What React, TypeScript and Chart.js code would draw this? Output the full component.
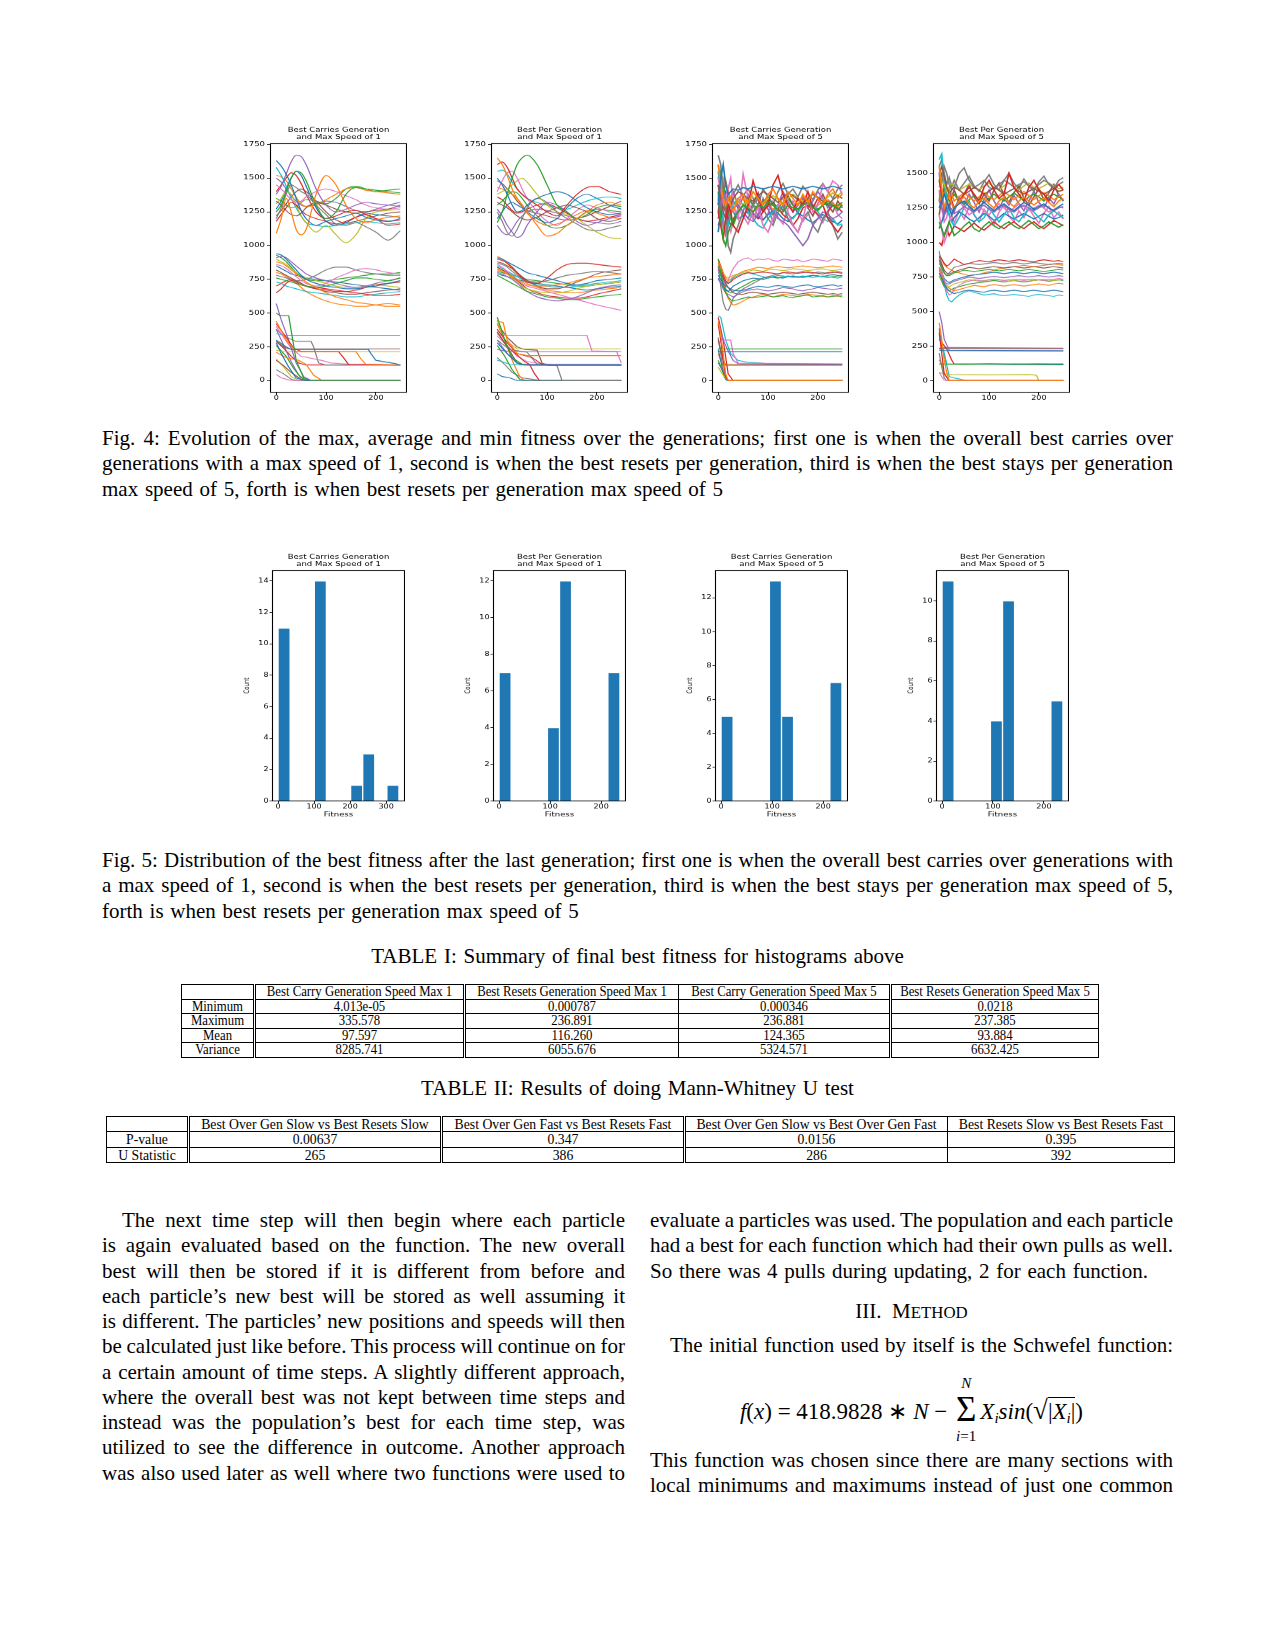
import { useEffect, useRef } from "react";
import { Chart, registerables } from "chart.js";

Chart.register(...registerables);

const TAB10 = ["#1f77b4", "#ff7f0e", "#2ca02c", "#d62728", "#9467bd", "#8c564b", "#e377c2", "#7f7f7f", "#bcbd22", "#17becf"];

const GEN_SLOW = [0, 10, 20, 30, 40, 50, 60, 80, 100, 120, 140, 160, 180, 200, 225, 249];
const GEN_FAST = [0, 5, 10, 15, 20, 25, 30, 40, 50, 60, 70, 80, 90, 100, 110, 120, 130, 140, 150, 160, 170, 180, 190, 200, 210, 220, 230, 240, 249];
const GEN_TICKS = [0, 100, 200];
const FIT_TICKS_1750 = [0, 250, 500, 750, 1000, 1250, 1500, 1750];
const FIT_TICKS_1500 = [0, 250, 500, 750, 1000, 1250, 1500];

// ---- Best Carries Generation, max speed 1 ----
const C1_MAX = [
  [1630, 1590, 1530, 1450, 1350, 1260, 1200, 1150, 1180, 1200, 1220, 1240, 1210, 1190, 1180, 1200],
  [1090, 1200, 1350, 1250, 1120, 1080, 1120, 1380, 1520, 1450, 1300, 1200, 1170, 1190, 1210, 1220],
  [1250, 1300, 1400, 1500, 1550, 1540, 1480, 1300, 1200, 1250, 1380, 1430, 1420, 1410, 1400, 1390],
  [1180, 1230, 1280, 1320, 1300, 1260, 1230, 1200, 1180, 1160, 1180, 1210, 1230, 1200, 1180, 1190],
  [1380, 1440, 1530, 1620, 1670, 1660, 1600, 1420, 1300, 1250, 1270, 1300, 1320, 1310, 1300, 1290],
  [1330, 1300, 1260, 1230, 1220, 1240, 1280, 1320, 1300, 1270, 1250, 1240, 1250, 1260, 1270, 1300],
  [1450, 1420, 1380, 1340, 1320, 1330, 1360, 1400, 1420, 1400, 1370, 1340, 1300, 1280, 1270, 1280],
  [1200, 1280, 1380, 1450, 1430, 1400, 1380, 1300, 1230, 1160, 1150, 1170, 1140, 1100, 1040, 1110],
  [1310, 1350, 1400, 1380, 1300, 1220, 1170, 1100, 1150, 1080, 1020, 1080, 1200, 1250, 1260, 1270],
  [1580, 1520, 1440, 1350, 1280, 1220, 1170, 1150, 1140, 1150, 1160, 1170, 1180, 1170, 1160, 1170],
  [1270, 1330, 1420, 1500, 1550, 1520, 1440, 1280, 1180, 1150, 1170, 1210, 1240, 1230, 1220, 1210],
  [1520, 1510, 1480, 1420, 1360, 1310, 1290, 1300, 1340, 1380, 1420, 1430, 1410, 1400, 1390, 1380],
  [1350, 1330, 1300, 1280, 1290, 1320, 1340, 1330, 1310, 1350, 1420, 1440, 1420, 1400, 1410, 1420],
  [1400, 1450, 1500, 1540, 1520, 1460, 1380, 1250, 1200, 1220, 1250, 1260, 1230, 1200, 1150, 1160],
  [1500, 1470, 1420, 1370, 1330, 1300, 1290, 1310, 1330, 1320, 1290, 1260, 1250, 1270, 1300, 1320],
  [1220, 1260, 1310, 1360, 1400, 1420, 1400, 1330, 1250, 1190, 1170, 1180, 1200, 1220, 1240, 1250],
];
const C1_AVG = [
  [940, 930, 900, 860, 820, 780, 750, 720, 700, 690, 680, 680, 690, 700, 720, 740],
  [880, 870, 850, 820, 790, 760, 730, 690, 650, 620, 600, 580, 570, 560, 550, 550],
  [760, 750, 740, 730, 720, 710, 700, 690, 700, 720, 740, 760, 760, 750, 740, 760],
  [650, 680, 720, 740, 730, 710, 700, 690, 680, 670, 660, 650, 640, 630, 630, 640],
  [910, 920, 910, 880, 850, 820, 790, 760, 740, 720, 700, 690, 700, 720, 740, 760],
  [820, 800, 780, 760, 740, 720, 700, 680, 660, 650, 640, 640, 650, 660, 670, 680],
  [860, 850, 830, 800, 770, 740, 720, 700, 720, 760, 790, 820, 830, 820, 800, 790],
  [780, 770, 760, 750, 740, 740, 750, 780, 820, 840, 840, 820, 800, 790, 780, 780],
  [900, 880, 860, 830, 800, 780, 760, 740, 720, 700, 690, 690, 700, 710, 700, 690],
  [730, 720, 700, 690, 680, 670, 660, 650, 640, 630, 620, 620, 630, 640, 650, 660],
  [850, 830, 810, 790, 780, 770, 760, 750, 740, 730, 720, 710, 700, 690, 680, 670],
  [800, 790, 770, 750, 720, 690, 660, 620, 590, 570, 560, 550, 550, 560, 570, 560],
  [930, 910, 880, 840, 800, 770, 750, 740, 740, 750, 760, 770, 780, 790, 790, 800],
  [700, 720, 740, 750, 740, 720, 700, 680, 670, 660, 660, 670, 690, 710, 720, 730],
];
const C1_MIN = [
  [[0, 300], [20, 250], [30, 230], [185, 230], [190, 200], [200, 150], [240, 125], [249, 115]],
  [[0, 440], [20, 300], [40, 215], [160, 215], [170, 160], [180, 120], [249, 115]],
  [[0, 500], [8, 480], [25, 480], [40, 150], [55, 20], [70, 0], [249, 0]],
  [[0, 420], [20, 320], [35, 240], [50, 215], [125, 215], [135, 170], [145, 120], [249, 115]],
  [[0, 570], [10, 450], [25, 300], [40, 130], [55, 30], [70, 0], [249, 0]],
  [[0, 290], [15, 250], [25, 235], [249, 235]],
  [[0, 400], [15, 320], [30, 240], [50, 180], [90, 150], [110, 130], [150, 120], [249, 115]],
  [[0, 380], [15, 330], [40, 290], [70, 290], [75, 250], [85, 130], [100, 115], [249, 115]],
  [[0, 225], [10, 215], [249, 215]],
  [[0, 350], [15, 335], [249, 335]],
  [[0, 280], [10, 200], [25, 100], [40, 20], [55, 0], [249, 0]],
  [[0, 210], [20, 170], [45, 150], [60, 120], [75, 40], [90, 5], [100, 0], [249, 0]],
  [[0, 260], [20, 180], [35, 90], [50, 20], [65, 0], [249, 0]],
  [[0, 290], [15, 240], [30, 180], [45, 130], [60, 115], [249, 115]],
  [[0, 380], [15, 260], [30, 140], [45, 40], [60, 0], [249, 0]],
  [[0, 150], [15, 110], [30, 60], [50, 10], [70, 0], [249, 0]],
  [[0, 45], [10, 20], [25, 5], [35, 0], [249, 0]],
  [[0, 80], [15, 50], [30, 10], [40, 0], [249, 0]],
  [[0, 160], [15, 100], [30, 30], [45, 0], [249, 0]],
];

// ---- Best Per Generation, max speed 1 ----
const C2_MAX = [
  [1500, 1450, 1380, 1300, 1250, 1260, 1300, 1350, 1380, 1400, 1380, 1330, 1280, 1250, 1230, 1240],
  [1650, 1600, 1520, 1420, 1350, 1300, 1250, 1150, 1070, 1090, 1150, 1200, 1250, 1300, 1320, 1300],
  [1170, 1250, 1380, 1500, 1600, 1650, 1670, 1600, 1450, 1300, 1250, 1200, 1230, 1280, 1300, 1290],
  [1600, 1620, 1580, 1500, 1420, 1380, 1350, 1300, 1250, 1220, 1300, 1380, 1430, 1440, 1400, 1380],
  [1270, 1220, 1150, 1100, 1060, 1080, 1150, 1250, 1320, 1300, 1250, 1180, 1150, 1170, 1200, 1220],
  [1320, 1300, 1280, 1250, 1220, 1200, 1190, 1210, 1250, 1280, 1300, 1280, 1250, 1200, 1180, 1200],
  [1400, 1480, 1540, 1550, 1500, 1420, 1350, 1250, 1180, 1150, 1200, 1260, 1300, 1280, 1250, 1230],
  [1250, 1180, 1100, 1070, 1120, 1200, 1280, 1350, 1320, 1250, 1200, 1160, 1120, 1110, 1130, 1150],
  [1380, 1400, 1420, 1450, 1480, 1500, 1470, 1380, 1300, 1250, 1230, 1200, 1150, 1100, 1060, 1050],
  [1550, 1560, 1530, 1470, 1420, 1380, 1350, 1320, 1300, 1280, 1270, 1300, 1330, 1350, 1360, 1350],
  [1200, 1250, 1300, 1320, 1300, 1280, 1250, 1200, 1170, 1200, 1280, 1350, 1380, 1350, 1300, 1270],
  [1430, 1420, 1400, 1380, 1350, 1300, 1240, 1180, 1150, 1160, 1190, 1230, 1260, 1240, 1210, 1200],
  [1300, 1330, 1370, 1400, 1390, 1350, 1300, 1220, 1150, 1130, 1150, 1200, 1250, 1270, 1260, 1250],
  [1360, 1340, 1300, 1260, 1240, 1250, 1270, 1300, 1310, 1280, 1240, 1200, 1180, 1190, 1210, 1230],
  [1150, 1100, 1080, 1120, 1180, 1220, 1250, 1270, 1260, 1240, 1220, 1200, 1180, 1170, 1160, 1180],
  [1480, 1460, 1420, 1380, 1330, 1290, 1260, 1240, 1220, 1200, 1190, 1200, 1220, 1250, 1290, 1330],
];
const C2_AVG = [
  [910, 900, 880, 860, 840, 820, 800, 780, 760, 740, 720, 710, 720, 740, 750, 760],
  [820, 810, 790, 770, 750, 730, 710, 700, 700, 710, 720, 740, 760, 770, 780, 790],
  [780, 760, 740, 720, 700, 680, 660, 640, 620, 610, 600, 600, 610, 620, 630, 640],
  [900, 890, 870, 840, 800, 760, 730, 720, 760, 820, 860, 870, 870, 860, 850, 840],
  [800, 790, 770, 750, 720, 690, 660, 620, 600, 590, 600, 620, 650, 680, 700, 710],
  [880, 870, 850, 830, 800, 770, 740, 700, 680, 680, 700, 730, 760, 790, 810, 820],
  [860, 840, 810, 780, 750, 720, 700, 680, 660, 640, 620, 600, 580, 560, 540, 520],
  [870, 860, 840, 810, 780, 760, 740, 730, 740, 760, 780, 790, 800, 810, 800, 790],
  [830, 810, 790, 760, 730, 700, 680, 660, 650, 650, 660, 680, 700, 710, 720, 730],
  [850, 830, 810, 790, 770, 750, 730, 710, 700, 690, 690, 700, 710, 720, 730, 740],
  [790, 780, 770, 760, 750, 740, 730, 720, 710, 700, 690, 680, 670, 680, 690, 700],
  [920, 900, 870, 830, 790, 750, 720, 690, 670, 660, 650, 650, 660, 670, 680, 690],
  [810, 800, 790, 780, 770, 760, 750, 740, 730, 720, 710, 700, 700, 710, 720, 730],
  [840, 820, 800, 770, 740, 710, 680, 650, 630, 620, 610, 610, 620, 640, 660, 680],
];
const C2_MIN = [
  [[0, 280], [20, 200], [40, 130], [60, 115], [249, 115]],
  [[0, 440], [12, 430], [20, 300], [40, 200], [60, 185], [249, 185]],
  [[0, 470], [15, 300], [30, 170], [50, 120], [70, 115], [249, 115]],
  [[0, 380], [20, 280], [40, 200], [70, 170], [90, 120], [100, 115], [249, 115]],
  [[0, 230], [15, 220], [30, 215], [249, 215]],
  [[0, 360], [20, 250], [40, 130], [55, 115], [249, 115]],
  [[0, 340], [10, 335], [180, 335], [190, 220], [240, 215], [249, 130]],
  [[0, 300], [25, 230], [60, 210], [80, 120], [120, 110], [130, 0], [249, 0]],
  [[0, 450], [15, 300], [40, 235], [249, 235]],
  [[0, 150], [10, 140], [25, 120], [45, 115], [249, 115]],
  [[0, 50], [10, 30], [25, 20], [40, 0], [249, 0]],
  [[0, 420], [15, 300], [30, 150], [45, 30], [55, 0], [249, 0]],
  [[0, 260], [15, 180], [30, 80], [45, 10], [60, 0], [249, 0]],
  [[0, 360], [20, 250], [40, 190], [55, 140], [65, 120], [75, 50], [85, 0], [249, 0]],
  [[0, 300], [20, 200], [40, 130], [50, 120], [249, 120]],
  [[0, 420], [20, 320], [40, 250], [55, 230], [80, 225], [90, 130], [100, 115], [249, 115]],
  [[0, 330], [20, 260], [40, 180], [60, 140], [90, 125], [110, 118], [249, 115]],
  [[0, 170], [15, 120], [30, 60], [50, 20], [70, 10], [90, 0], [249, 0]],
];

// ---- Best Carries Generation, max speed 5 ----
const C3_MAX = [
  [1300, 1500, 1600, 1450, 1380, 1400, 1420, 1410, 1430, 1420, 1440, 1430, 1420, 1430, 1440, 1430, 1420, 1430, 1440, 1430, 1420, 1430, 1440, 1430, 1420, 1430, 1440, 1430, 1420],
  [1600, 1450, 1350, 1300, 1350, 1300, 1250, 1350, 1380, 1320, 1400, 1350, 1300, 1380, 1420, 1350, 1300, 1400, 1350, 1300, 1380, 1320, 1400, 1350, 1300, 1380, 1420, 1350, 1380],
  [1400, 1200, 1050, 1000, 1100, 1150, 1200, 1250, 1300, 1280, 1250, 1300, 1280, 1320, 1300, 1260, 1250, 1300, 1280, 1270, 1300, 1320, 1280, 1260, 1300, 1310, 1290, 1300, 1320],
  [1250, 1150, 1050, 1200, 1300, 1250, 1150, 1100, 1200, 1300, 1480, 1350, 1250, 1300, 1450, 1520, 1380, 1300, 1250, 1350, 1300, 1400, 1280, 1350, 1300, 1200, 1150, 1100, 1150],
  [1200, 1300, 1400, 1350, 1300, 1250, 1280, 1300, 1250, 1200, 1180, 1230, 1280, 1300, 1250, 1200, 1180, 1150, 1100, 1050, 1000, 1050, 1150, 1200, 1250, 1230, 1200, 1220, 1250],
  [1450, 1350, 1250, 1200, 1250, 1300, 1350, 1400, 1380, 1350, 1330, 1370, 1400, 1380, 1350, 1320, 1360, 1390, 1370, 1340, 1310, 1350, 1380, 1360, 1330, 1300, 1340, 1370, 1350],
  [1500, 1400, 1300, 1350, 1420, 1500, 1300, 1200, 1530, 1350, 1200, 1280, 1150, 1100, 1200, 1300, 1350, 1250, 1150, 1100, 1200, 1350, 1250, 1300, 1450, 1400, 1480, 1450, 1380],
  [1670, 1600, 1400, 1250, 1000, 950, 1050, 1150, 1250, 1200, 1300, 1350, 1280, 1200, 1150, 1250, 1300, 1200, 1150, 1100, 1200, 1250, 1150, 1100, 1200, 1250, 1150, 1050, 1100],
  [1350, 1450, 1400, 1350, 1300, 1320, 1350, 1330, 1300, 1340, 1360, 1330, 1310, 1350, 1370, 1340, 1320, 1350, 1380, 1350, 1330, 1360, 1380, 1350, 1330, 1360, 1390, 1370, 1400],
  [1550, 1400, 1200, 1100, 1150, 1250, 1300, 1350, 1300, 1250, 1200, 1150, 1130, 1200, 1250, 1300, 1280, 1230, 1200, 1250, 1300, 1350, 1300, 1250, 1200, 1180, 1200, 1150, 1160],
  [1100, 1250, 1350, 1400, 1350, 1300, 1250, 1200, 1220, 1260, 1240, 1210, 1190, 1230, 1260, 1240, 1200, 1180, 1210, 1240, 1220, 1190, 1170, 1200, 1230, 1210, 1180, 1160, 1190],
  [1300, 1400, 1500, 1450, 1400, 1350, 1300, 1320, 1350, 1300, 1250, 1280, 1320, 1300, 1270, 1290, 1320, 1300, 1280, 1310, 1330, 1310, 1290, 1300, 1320, 1340, 1310, 1290, 1310],
  [1500, 1550, 1450, 1350, 1250, 1200, 1150, 1250, 1300, 1350, 1300, 1280, 1330, 1360, 1310, 1280, 1320, 1350, 1300, 1270, 1310, 1340, 1300, 1270, 1300, 1330, 1300, 1270, 1300],
  [1150, 1200, 1300, 1250, 1200, 1150, 1180, 1250, 1300, 1270, 1230, 1200, 1250, 1300, 1320, 1280, 1230, 1200, 1150, 1200, 1280, 1300, 1260, 1230, 1200, 1250, 1300, 1280, 1250],
  [1450, 1300, 1150, 1080, 1200, 1350, 1400, 1300, 1250, 1380, 1300, 1220, 1350, 1270, 1180, 1300, 1400, 1330, 1250, 1300, 1360, 1280, 1330, 1400, 1350, 1280, 1320, 1260, 1300],
  [1250, 1380, 1450, 1300, 1180, 1230, 1330, 1280, 1360, 1240, 1310, 1390, 1260, 1340, 1230, 1300, 1260, 1370, 1300, 1240, 1350, 1280, 1220, 1310, 1380, 1300, 1250, 1330, 1280],
  [1600, 1500, 1350, 1250, 1150, 1100, 1180, 1280, 1220, 1160, 1250, 1300, 1190, 1240, 1330, 1210, 1160, 1270, 1330, 1250, 1180, 1230, 1300, 1220, 1170, 1260, 1310, 1230, 1200],
  [1350, 1250, 1380, 1480, 1400, 1320, 1380, 1450, 1370, 1420, 1350, 1300, 1420, 1360, 1300, 1400, 1460, 1380, 1420, 1360, 1440, 1390, 1340, 1410, 1460, 1400, 1350, 1420, 1450],
];
const C3_AVG = [
  [780, 750, 720, 700, 690, 680, 670, 665, 670, 680, 690, 700, 695, 690, 700, 705, 700, 695, 690, 700, 705, 710, 700, 695, 700, 705, 710, 700, 705],
  [880, 850, 800, 760, 740, 750, 770, 790, 810, 820, 830, 840, 835, 830, 840, 845, 840, 835, 840, 845, 850, 845, 840, 835, 840, 845, 850, 845, 840],
  [900, 800, 700, 650, 620, 600, 590, 600, 610, 620, 615, 620, 625, 630, 620, 625, 630, 620, 615, 625, 630, 635, 620, 625, 630, 620, 625, 630, 620],
  [900, 850, 780, 740, 720, 730, 750, 770, 790, 800, 795, 800, 805, 800, 795, 790, 800, 805, 800, 795, 800, 805, 800, 795, 790, 800, 805, 800, 795],
  [760, 720, 680, 650, 640, 630, 620, 640, 660, 670, 675, 680, 670, 665, 670, 680, 690, 685, 680, 670, 665, 675, 680, 690, 685, 680, 675, 680, 685],
  [830, 800, 760, 720, 690, 670, 650, 640, 640, 650, 655, 650, 645, 640, 645, 650, 655, 650, 645, 640, 645, 650, 655, 650, 645, 640, 645, 640, 645],
  [820, 800, 760, 700, 740, 790, 830, 880, 900, 910, 890, 900, 895, 905, 890, 885, 900, 895, 890, 895, 880, 890, 900, 895, 890, 885, 900, 895, 890],
  [850, 700, 580, 530, 520, 560, 610, 650, 680, 700, 720, 740, 760, 770, 780, 790, 800, 795, 790, 800, 810, 800, 795, 805, 800, 795, 800, 810, 800],
  [840, 820, 790, 770, 760, 770, 780, 790, 800, 810, 820, 815, 810, 820, 825, 820, 815, 820, 830, 825, 820, 815, 820, 825, 830, 820, 815, 820, 825],
  [800, 780, 750, 730, 720, 740, 760, 780, 790, 800, 790, 780, 770, 760, 770, 780, 775, 770, 765, 770, 775, 770, 765, 770, 775, 770, 765, 760, 770],
  [750, 730, 700, 670, 660, 680, 700, 720, 740, 750, 760, 755, 750, 760, 770, 765, 760, 770, 775, 770, 765, 770, 780, 775, 770, 780, 785, 780, 775],
  [870, 820, 740, 660, 610, 580, 560, 570, 590, 610, 620, 630, 640, 630, 620, 630, 640, 635, 630, 625, 630, 640, 635, 630, 625, 620, 630, 625, 630],
  [820, 780, 720, 680, 660, 650, 660, 680, 700, 720, 740, 750, 760, 770, 765, 760, 770, 775, 770, 765, 770, 775, 780, 775, 770, 765, 770, 775, 780],
];
const C3_MIN = [
  [[0, 220], [5, 215], [249, 215]],
  [[0, 440], [5, 350], [10, 200], [15, 50], [20, 0], [249, 0]],
  [[0, 240], [5, 235], [249, 235]],
  [[0, 420], [5, 300], [10, 150], [15, 30], [20, 0], [249, 0]],
  [[0, 430], [10, 300], [20, 220], [30, 150], [40, 125], [249, 122]],
  [[0, 300], [10, 150], [15, 115], [249, 115]],
  [[0, 280], [8, 300], [25, 300], [30, 200], [40, 130], [249, 125]],
  [[0, 320], [5, 200], [10, 80], [18, 5], [25, 0], [249, 0]],
  [[0, 100], [10, 40], [20, 5], [30, 0], [60, 3], [90, 0], [120, 4], [150, 0], [180, 3], [210, 0], [249, 2]],
  [[0, 480], [5, 470], [15, 300], [25, 200], [40, 150], [60, 135], [90, 130], [100, 120], [249, 120]],
  [[0, 230], [5, 150], [12, 30], [18, 0], [249, 0]],
  [[0, 200], [5, 150], [10, 120], [249, 118]],
  [[0, 150], [8, 80], [15, 10], [20, 0], [249, 0]],
  [[0, 470], [10, 300], [20, 50], [30, 0], [249, 0]],
  [[0, 130], [5, 100], [15, 20], [20, 0], [249, 0]],
];

// ---- Best Per Generation, max speed 5 ----
const C4_MAX = [
  [1250, 1300, 1350, 1300, 1250, 1200, 1250, 1280, 1300, 1260, 1230, 1260, 1290, 1260, 1230, 1260, 1280, 1250, 1230, 1260, 1290, 1270, 1240, 1260, 1280, 1250, 1230, 1260, 1280],
  [1550, 1400, 1250, 1300, 1350, 1280, 1250, 1300, 1330, 1280, 1250, 1300, 1320, 1280, 1250, 1300, 1330, 1290, 1260, 1300, 1330, 1300, 1270, 1300, 1320, 1290, 1260, 1300, 1320],
  [1150, 1100, 1050, 1100, 1150, 1100, 1050, 1080, 1120, 1150, 1100, 1080, 1120, 1150, 1120, 1100, 1130, 1150, 1120, 1100, 1130, 1160, 1130, 1100, 1120, 1150, 1130, 1110, 1130],
  [1450, 1350, 1250, 1300, 1350, 1300, 1250, 1300, 1350, 1400, 1350, 1300, 1400, 1450, 1380, 1320, 1350, 1500, 1400, 1350, 1300, 1400, 1450, 1380, 1350, 1300, 1380, 1420, 1380],
  [1300, 1250, 1200, 1230, 1260, 1240, 1210, 1230, 1260, 1240, 1220, 1250, 1270, 1240, 1220, 1250, 1270, 1240, 1220, 1250, 1270, 1250, 1230, 1250, 1270, 1250, 1230, 1250, 1260],
  [1500, 1550, 1480, 1400, 1350, 1380, 1400, 1380, 1350, 1370, 1400, 1380, 1350, 1370, 1400, 1380, 1350, 1370, 1390, 1370, 1350, 1370, 1390, 1370, 1350, 1370, 1390, 1370, 1380],
  [1200, 1100, 1000, 1050, 1150, 1200, 1250, 1300, 1250, 1200, 1230, 1260, 1230, 1200, 1250, 1280, 1250, 1220, 1250, 1280, 1260, 1230, 1250, 1270, 1250, 1220, 1240, 1260, 1250],
  [1300, 1450, 1550, 1500, 1420, 1380, 1400, 1500, 1540, 1450, 1400, 1420, 1450, 1400, 1380, 1420, 1450, 1430, 1400, 1420, 1440, 1410, 1390, 1420, 1450, 1430, 1400, 1420, 1440],
  [1400, 1450, 1420, 1380, 1400, 1430, 1410, 1380, 1400, 1420, 1400, 1380, 1410, 1430, 1400, 1380, 1410, 1430, 1400, 1380, 1410, 1430, 1400, 1390, 1410, 1430, 1410, 1390, 1400],
  [1600, 1640, 1450, 1300, 1200, 1150, 1120, 1180, 1250, 1300, 1200, 1150, 1180, 1250, 1200, 1150, 1200, 1250, 1180, 1150, 1200, 1250, 1220, 1180, 1150, 1200, 1230, 1200, 1180],
  [1100, 1150, 1200, 1250, 1200, 1150, 1180, 1220, 1200, 1170, 1150, 1180, 1210, 1190, 1160, 1180, 1210, 1190, 1170, 1190, 1210, 1190, 1170, 1190, 1210, 1190, 1170, 1180, 1200],
  [1350, 1300, 1350, 1400, 1380, 1350, 1300, 1330, 1360, 1330, 1300, 1330, 1360, 1330, 1310, 1340, 1370, 1340, 1310, 1340, 1370, 1340, 1310, 1340, 1360, 1340, 1310, 1330, 1350],
  [1450, 1500, 1400, 1350, 1300, 1320, 1350, 1300, 1280, 1310, 1340, 1310, 1290, 1320, 1350, 1320, 1300, 1330, 1360, 1330, 1300, 1330, 1350, 1330, 1300, 1330, 1350, 1330, 1310],
  [1000, 980, 1050, 1100, 1050, 1080, 1120, 1100, 1080, 1110, 1140, 1110, 1090, 1120, 1150, 1120, 1100, 1130, 1150, 1120, 1100, 1130, 1150, 1120, 1100, 1130, 1160, 1140, 1120],
  [1500, 1350, 1200, 1280, 1380, 1300, 1220, 1330, 1270, 1350, 1290, 1220, 1310, 1380, 1300, 1240, 1320, 1270, 1340, 1280, 1230, 1300, 1370, 1290, 1250, 1320, 1280, 1350, 1300],
  [1200, 1320, 1400, 1300, 1250, 1330, 1380, 1290, 1350, 1420, 1330, 1280, 1350, 1300, 1380, 1430, 1340, 1290, 1360, 1410, 1320, 1270, 1330, 1390, 1310, 1360, 1420, 1340, 1300],
  [1380, 1250, 1150, 1180, 1280, 1200, 1140, 1230, 1170, 1260, 1200, 1150, 1240, 1180, 1130, 1220, 1270, 1190, 1150, 1230, 1180, 1250, 1190, 1140, 1210, 1260, 1180, 1220, 1170],
  [1550, 1600, 1500, 1420, 1470, 1400, 1450, 1380, 1430, 1480, 1410, 1370, 1440, 1490, 1420, 1380, 1450, 1500, 1430, 1390, 1460, 1410, 1370, 1440, 1480, 1420, 1390, 1450, 1470],
];
const C4_AVG = [
  [780, 740, 700, 670, 650, 640, 630, 640, 650, 655, 650, 645, 640, 650, 655, 650, 645, 650, 655, 650, 645, 650, 655, 650, 645, 650, 655, 650, 645],
  [820, 760, 700, 680, 670, 660, 650, 660, 670, 680, 690, 685, 680, 690, 695, 690, 685, 690, 695, 690, 685, 690, 695, 700, 695, 690, 700, 705, 700],
  [850, 820, 780, 760, 760, 770, 780, 790, 800, 795, 790, 795, 800, 805, 800, 795, 800, 805, 800, 795, 800, 805, 800, 795, 790, 795, 800, 805, 800],
  [900, 880, 850, 830, 840, 860, 880, 860, 840, 850, 860, 870, 865, 860, 870, 875, 870, 865, 870, 875, 870, 865, 860, 870, 875, 870, 865, 870, 860],
  [800, 760, 720, 700, 700, 710, 720, 730, 740, 750, 745, 740, 745, 750, 755, 750, 745, 750, 755, 760, 755, 750, 755, 760, 755, 750, 755, 760, 755],
  [870, 840, 800, 780, 770, 780, 790, 800, 810, 820, 815, 810, 815, 820, 825, 820, 815, 820, 825, 820, 815, 820, 825, 820, 815, 820, 825, 820, 815],
  [880, 800, 720, 650, 620, 630, 660, 690, 710, 720, 730, 725, 720, 730, 735, 730, 725, 730, 735, 730, 725, 730, 735, 730, 725, 730, 735, 740, 735],
  [900, 850, 780, 760, 780, 800, 820, 830, 840, 850, 845, 840, 845, 850, 855, 850, 845, 850, 855, 850, 845, 850, 855, 850, 845, 840, 845, 850, 845],
  [760, 730, 700, 690, 680, 690, 700, 710, 720, 730, 725, 720, 725, 730, 735, 730, 725, 720, 725, 730, 735, 730, 725, 730, 735, 730, 725, 730, 735],
  [940, 800, 700, 620, 580, 570, 590, 620, 640, 650, 640, 630, 620, 625, 630, 620, 615, 620, 625, 620, 615, 610, 620, 625, 620, 615, 610, 620, 615],
  [820, 780, 740, 720, 710, 720, 730, 740, 750, 760, 765, 770, 775, 780, 785, 780, 775, 780, 785, 780, 775, 780, 785, 780, 775, 780, 785, 780, 775],
  [920, 880, 840, 820, 810, 800, 790, 780, 770, 760, 765, 770, 780, 790, 800, 810, 815, 820, 825, 830, 835, 830, 825, 830, 835, 840, 845, 840, 835],
  [760, 720, 680, 660, 650, 660, 670, 680, 690, 700, 705, 710, 715, 720, 725, 720, 715, 720, 725, 720, 715, 720, 725, 730, 725, 720, 725, 730, 725],
];
const C4_MIN = [
  [[0, 220], [10, 218], [249, 215]],
  [[0, 420], [5, 300], [10, 150], [15, 60], [20, 0], [249, 0]],
  [[0, 120], [249, 120]],
  [[0, 350], [5, 200], [10, 50], [20, 0], [249, 0]],
  [[0, 500], [5, 420], [10, 300], [20, 220], [249, 215]],
  [[0, 230], [5, 232], [249, 232]],
  [[0, 60], [5, 30], [10, 5], [15, 0], [249, 0]],
  [[0, 200], [5, 100], [10, 20], [15, 0], [249, 0]],
  [[0, 60], [10, 50], [25, 45], [100, 42], [180, 45], [195, 40], [200, 0], [249, 0]],
  [[0, 330], [10, 200], [20, 30], [30, 20], [50, 5], [60, 0], [249, 0]],
  [[0, 380], [5, 250], [15, 120], [249, 115]],
  [[0, 150], [5, 120], [10, 50], [20, 0], [249, 0]],
  [[0, 120], [50, 118], [100, 122], [150, 118], [200, 120], [249, 118]],
  [[0, 300], [15, 230], [25, 150], [30, 120], [249, 120]],
  [[0, 235], [10, 240], [249, 235]],
];

// ---- histograms of final best fitness (10 bins between min and max) ----
const HIST_1 = [11, 0, 0, 14, 0, 0, 1, 3, 0, 1];
const HIST_2 = [7, 0, 0, 0, 4, 12, 0, 0, 0, 7];
const HIST_3 = [5, 0, 0, 0, 13, 5, 0, 0, 0, 7];
const HIST_4 = [11, 0, 0, 0, 4, 10, 0, 0, 0, 5];
const COUNT_TICKS_14 = [0, 2, 4, 6, 8, 10, 12, 14];
const COUNT_TICKS_12 = [0, 2, 4, 6, 8, 10, 12];
const COUNT_TICKS_10 = [0, 2, 4, 6, 8, 10];
const HIST_X_TICKS_WIDE = [0, 100, 200, 300];

const PANEL_TITLES = [
  ["Best Carries Generation", "and Max Speed of 1"],
  ["Best Per Generation", "and Max Speed of 1"],
  ["Best Carries Generation", "and Max Speed of 5"],
  ["Best Per Generation", "and Max Speed of 5"],
];

// ---- tables ----
const T1_HEAD = ["Best Carry Generation Speed Max 1", "Best Resets Generation Speed Max 1", "Best Carry Generation Speed Max 5", "Best Resets Generation Speed Max 5"];
const T1_LABELS = ["Minimum", "Maximum", "Mean", "Variance"];
const T1_MIN = ["4.013e-05", "0.000787", "0.000346", "0.0218"];
const T1_MAX = ["335.578", "236.891", "236.881", "237.385"];
const T1_MEAN = ["97.597", "116.260", "124.365", "93.884"];
const T1_VAR = ["8285.741", "6055.676", "5324.571", "6632.425"];

const T2_HEAD = ["Best Over Gen Slow vs Best Resets Slow", "Best Over Gen Fast vs Best Resets Fast", "Best Over Gen Slow vs Best Over Gen Fast", "Best Resets Slow vs Best Resets Fast"];
const T2_LABELS = ["P-value", "U Statistic"];
const T2_P = ["0.00637", "0.347", "0.0156", "0.395"];
const T2_U = ["265", "386", "286", "392"];

// ---- text ----
const FIG4_LINES = [
  "Fig. 4: Evolution of the max, average and min fitness over the generations; first one is when the overall best carries over",
  "generations with a max speed of 1, second is when the best resets per generation, third is when the best stays per generation",
  "max speed of 5, forth is when best resets per generation max speed of 5",
];
const FIG5_LINES = [
  "Fig. 5: Distribution of the best fitness after the last generation; first one is when the overall best carries over generations with",
  "a max speed of 1, second is when the best resets per generation, third is when the best stays per generation max speed of 5,",
  "forth is when best resets per generation max speed of 5",
];
const LEFT_LINES = [
  "The next time step will then begin where each particle",
  "is again evaluated based on the function. The new overall",
  "best will then be stored if it is different from before and",
  "each particle\u2019s new best will be stored as well assuming it",
  "is different. The particles\u2019 new positions and speeds will then",
  "be calculated just like before. This process will continue on for",
  "a certain amount of time steps. A slightly different approach,",
  "where the overall best was not kept between time steps and",
  "instead was the population\u2019s best for each time step, was",
  "utilized to see the difference in outcome. Another approach",
  "was also used later as well where two functions were used to",
];
const RIGHT_LINES_A = [
  "evaluate a particles was used. The population and each particle",
  "had a best for each function which had their own pulls as well.",
  "So there was 4 pulls during updating, 2 for each function.",
];
const RIGHT_LINES_B = [
  "This function was chosen since there are many sections with",
  "local minimums and maximums instead of just one common",
];

// layout (page px). The matplotlib figures in the paper are squeezed vertically,
// so the canvases are drawn taller and shrunk with CSS.
const LINE_BOX_LEFT = [270, 491, 712, 933];
const HIST_BOX_LEFT = [272, 493, 715, 936];
const SQUEEZE = 0.72;
const SERIF = "'Liberation Serif', 'Times New Roman', serif";
const TEXT_SIZE = 21;
const LINE_H = 25.25;
const TITLE_H = 17;

const frame = {
  id: "frame",
  afterDraw(chart: any) {
    const { ctx, chartArea: a } = chart;
    ctx.save();
    ctx.strokeStyle = "#000";
    ctx.lineWidth = 1.1;
    ctx.strokeRect(Math.round(a.left) + 0.5, Math.round(a.top) + 0.5, Math.round(a.right - a.left) - 1, Math.round(a.bottom - a.top) - 1);
    ctx.restore();
  },
};

function titlePlugin(lines: string[], k: number) {
  return {
    id: "panelTitle",
    afterDraw(chart: any) {
      const { ctx, chartArea: a } = chart;
      const cx = (a.left + a.right) / 2;
      ctx.save();
      ctx.fillStyle = "#000";
      ctx.font = "8.5px 'DejaVu Sans'";
      ctx.textAlign = "center";
      ctx.textBaseline = "middle";
      ctx.fillText(lines[0], cx, 4.2 * k);
      ctx.fillText(lines[1], cx, 11.5 * k);
      ctx.restore();
    },
  };
}

function axis(min: number, max: number, ticks: number[], size: number, fontSize: number, tickLen: number, pad: number, extra: any = {}) {
  return {
    type: "linear",
    min,
    max,
    offset: false,
    afterBuildTicks: (s: any) => {
      s.ticks = ticks.map((v) => ({ value: v }));
    },
    afterFit: (s: any) => {
      if (s.isHorizontal()) s.height = size;
      else s.width = size;
    },
    grid: { display: true, offset: false, drawOnChartArea: false, drawTicks: true, tickLength: tickLen, color: "#000", lineWidth: 0.9 },
    border: { display: false },
    ticks: {
      color: "#000",
      font: { family: "'DejaVu Sans'", size: fontSize, lineHeight: 1 },
      padding: pad,
      maxRotation: 0,
      autoSkip: false,
      callback: (v: any) => String(v),
    },
    ...extra,
  };
}

type Pt = number[];

function LinePanel({ idx, xs, max, avg, min, yMin, yMax, yTicks, fast }: any) {
  const ref = useRef<HTMLCanvasElement | null>(null);
  const W = 40 + 137;
  const H = TITLE_H + 249 + 15;
  const LH = Math.round(H / SQUEEZE);
  const k = LH / H;

  useEffect(() => {
    const datasets: any[] = [];
    const curve = (pts: any[], color: string, width: number, smooth: boolean) => ({
      data: pts,
      borderColor: color,
      borderWidth: width,
      pointRadius: 0,
      fill: false,
      cubicInterpolationMode: smooth ? "monotone" : "default",
      tension: 0,
    });
    max.forEach((ys: number[], i: number) =>
      datasets.push(curve(xs.map((x: number, j: number) => ({ x, y: ys[j] })), TAB10[i % 10], fast ? 1.6 : 1.2, !fast)),
    );
    avg.forEach((ys: number[], i: number) =>
      datasets.push(curve(xs.map((x: number, j: number) => ({ x, y: ys[j] })), TAB10[i % 10], 1.2, !fast)),
    );
    min.forEach((pts: Pt[], i: number) =>
      datasets.push(curve(pts.map((p) => ({ x: p[0], y: p[1] })), TAB10[i % 10], 1.2, false)),
    );

    const chart = new Chart(ref.current!, {
      type: "line",
      data: { datasets },
      options: {
        responsive: false,
        animation: false,
        events: [],
        layout: { padding: { top: TITLE_H * k, left: 0, right: 0, bottom: 0 } },
        plugins: { legend: { display: false }, tooltip: { enabled: false }, title: { display: false } },
        scales: {
          x: axis(-12.5, 262.5, GEN_TICKS, 15 * k, 8, 4, 1) as any,
          y: axis(yMin, yMax, yTicks, 40, 8.5, 3, 2) as any,
        },
      },
      plugins: [frame, titlePlugin(PANEL_TITLES[idx], k)],
    });
    return () => chart.destroy();
  }, []);

  return (
    <canvas
      ref={ref}
      width={W}
      height={LH}
      style={{ position: "absolute", left: LINE_BOX_LEFT[idx] - 40, top: 143 - TITLE_H, width: W, height: H }}
    />
  );
}

function HistPanel({ idx, counts, lo, hi, yTicks, xTicks }: any) {
  const ref = useRef<HTMLCanvasElement | null>(null);
  const W = 30 + 133;
  const H = TITLE_H + 231 + 19;
  const LH = Math.round(H / SQUEEZE);
  const k = LH / H;

  useEffect(() => {
    const binW = (hi - lo) / counts.length;
    const pts = counts.map((c: number, i: number) => ({ x: lo + binW * (i + 0.5), y: c }));
    const margin = (hi - lo) * 0.05;
    const top = Math.max(...counts) * 1.05;
    const chart = new Chart(ref.current!, {
      type: "bar",
      data: {
        datasets: [
          {
            data: pts,
            backgroundColor: "#1f77b4",
            borderColor: "rgba(255,255,255,0.55)",
            borderWidth: 1,
            borderSkipped: "bottom",
            barPercentage: 1,
            categoryPercentage: 1,
          },
        ],
      },
      options: {
        responsive: false,
        animation: false,
        events: [],
        layout: { padding: { top: TITLE_H * k, left: 0, right: 0, bottom: 0 } },
        plugins: { legend: { display: false }, tooltip: { enabled: false }, title: { display: false } },
        scales: {
          x: axis(lo - margin, hi + margin, xTicks, 19 * k, 8, 3, 1, {
            title: {
              display: true,
              text: "Fitness",
              color: "#000",
              font: { family: "'DejaVu Sans'", size: 8.5, lineHeight: 1.2 },
              padding: { top: 0, bottom: 2.5 },
            },
          }) as any,
          y: axis(0, top, yTicks, 30, 8, 2.5, 1, {
            title: {
              display: true,
              text: "Count",
              color: "#000",
              font: { family: "'DejaVu Sans'", size: 7.5, lineHeight: 1.2 },
              padding: { top: 0.5, bottom: 0 },
            },
          }) as any,
        },
      },
      plugins: [frame, titlePlugin(PANEL_TITLES[idx], k)],
    });
    return () => chart.destroy();
  }, []);

  return (
    <canvas
      ref={ref}
      width={W}
      height={LH}
      style={{ position: "absolute", left: HIST_BOX_LEFT[idx] - 30, top: 570 - TITLE_H, width: W, height: H }}
    />
  );
}

function TextLines({ lines, top, left, width, indent = 0, lastJustified = false }: any) {
  return (
    <div style={{ position: "absolute", top, left, width, fontFamily: SERIF, fontSize: TEXT_SIZE, lineHeight: `${LINE_H}px`, color: "#000" }}>
      {lines.map((t: string, i: number) => {
        const full = i < lines.length - 1 || lastJustified;
        return (
          <div
            key={i}
            style={{
              height: LINE_H,
              whiteSpace: "nowrap",
              textAlign: full ? "justify" : "left",
              textAlignLast: full ? "justify" : "left",
              textIndent: i === 0 ? indent : 0,
              wordSpacing: full ? -3 : 1.5,
            }}
          >
            {t}
          </div>
        );
      })}
    </div>
  );
}

const cell: any = { border: "1px solid #000", padding: 0, textAlign: "center", whiteSpace: "nowrap" };
const dbl = "3px double #000";

function Cond({ children }: any) {
  // the tables are horizontally squeezed in the paper
  return <span style={{ display: "block", margin: "0 -30px", transform: "scaleX(0.88)", whiteSpace: "nowrap" }}>{children}</span>;
}

function DataTable({ head, labels, rows, widths, leftBorders, left, top, width, fontSize, lineHeight }: any) {
  return (
    <table
      style={{
        position: "absolute",
        left,
        top,
        width,
        borderCollapse: "collapse",
        tableLayout: "fixed",
        fontFamily: SERIF,
        fontSize,
        lineHeight,
      }}
    >
      <colgroup>
        {widths.map((w: number, i: number) => (
          <col key={i} style={{ width: w }} />
        ))}
      </colgroup>
      <tbody>
        <tr>
          <td style={cell}></td>
          {head.map((h: string, i: number) => (
            <td key={i} style={{ ...cell, borderLeft: leftBorders[i + 1] || cell.border }}>
              <Cond>{h}</Cond>
            </td>
          ))}
        </tr>
        {rows.map((r: string[], ri: number) => (
          <tr key={ri}>
            <td style={cell}>
              <Cond>{labels[ri]}</Cond>
            </td>
            {r.map((v, i) => (
              <td key={i} style={{ ...cell, borderLeft: leftBorders[i + 1] || cell.border }}>
                <Cond>{v}</Cond>
              </td>
            ))}
          </tr>
        ))}
      </tbody>
    </table>
  );
}

function Formula() {
  const sub = { fontSize: 15, verticalAlign: "-4px", lineHeight: 0 };
  const limit = { position: "absolute", left: 0, right: 0, textAlign: "center", fontSize: 15, lineHeight: "16px" } as any;
  return (
    <div
      style={{
        position: "absolute",
        left: 650,
        width: 523,
        top: 1396,
        height: 28,
        lineHeight: "28px",
        textAlign: "center",
        fontFamily: SERIF,
        fontSize: 23,
        whiteSpace: "pre",
      }}
    >
      <i>f</i>(<i>x</i>) = 418.9828 ∗ <i>N</i> −{" "}
      <span style={{ position: "relative", display: "inline-block", margin: "0 4px 0 3px", fontSize: 35, lineHeight: "28px", verticalAlign: "top" }}>
        Σ
        <i style={{ ...limit, top: -21 }}>N</i>
        <span style={{ ...limit, top: 32 }}>
          <i>i</i>=1
        </span>
      </span>
      <i>X</i>
      <i style={sub}>i</i>
      <i>sin</i>(<span style={{ fontSize: 27 }}>√</span>
      <span style={{ borderTop: "1.2px solid #000", paddingTop: 1 }}>
        |<i>X</i>
        <i style={sub}>i</i>|
      </span>
      )
    </div>
  );
}

export default function App() {
  const capStyle: any = {
    position: "absolute",
    left: 102,
    width: 1071,
    textAlign: "center",
    fontFamily: SERIF,
    fontSize: TEXT_SIZE,
    lineHeight: `${LINE_H}px`,
    wordSpacing: 1.5,
  };
  return (
    <div
      style={{
        position: "absolute",
        left: 0,
        top: 0,
        width: 1275,
        height: 1650,
        background: "#fff",
        overflow: "hidden",
      }}
    >
      <LinePanel idx={0} xs={GEN_SLOW} max={C1_MAX} avg={C1_AVG} min={C1_MIN} yMin={-85} yMax={1760} yTicks={FIT_TICKS_1750} fast={false} />
      <LinePanel idx={1} xs={GEN_SLOW} max={C2_MAX} avg={C2_AVG} min={C2_MIN} yMin={-85} yMax={1760} yTicks={FIT_TICKS_1750} fast={false} />
      <LinePanel idx={2} xs={GEN_FAST} max={C3_MAX} avg={C3_AVG} min={C3_MIN} yMin={-84} yMax={1760} yTicks={FIT_TICKS_1750} fast={true} />
      <LinePanel idx={3} xs={GEN_FAST} max={C4_MAX} avg={C4_AVG} min={C4_MIN} yMin={-82} yMax={1720} yTicks={FIT_TICKS_1500} fast={true} />

      <TextLines lines={FIG4_LINES} top={426} left={102} width={1071} />

      <HistPanel idx={0} counts={HIST_1} lo={parseFloat(T1_MIN[0])} hi={parseFloat(T1_MAX[0])} yTicks={COUNT_TICKS_14} xTicks={HIST_X_TICKS_WIDE} />
      <HistPanel idx={1} counts={HIST_2} lo={parseFloat(T1_MIN[1])} hi={parseFloat(T1_MAX[1])} yTicks={COUNT_TICKS_12} xTicks={GEN_TICKS} />
      <HistPanel idx={2} counts={HIST_3} lo={parseFloat(T1_MIN[2])} hi={parseFloat(T1_MAX[2])} yTicks={COUNT_TICKS_12} xTicks={GEN_TICKS} />
      <HistPanel idx={3} counts={HIST_4} lo={parseFloat(T1_MIN[3])} hi={parseFloat(T1_MAX[3])} yTicks={COUNT_TICKS_10} xTicks={GEN_TICKS} />

      <TextLines lines={FIG5_LINES} top={848} left={102} width={1071} />

      <div style={{ ...capStyle, top: 944 }}>TABLE I: Summary of final best fitness for histograms above</div>
      <DataTable
        head={T1_HEAD}
        labels={T1_LABELS}
        rows={[T1_MIN, T1_MAX, T1_MEAN, T1_VAR]}
        widths={[73, 210, 214, 212, 208]}
        leftBorders={[null, dbl, dbl, null, dbl]}
        left={181}
        top={984}
        width={917}
        fontSize={14.5}
        lineHeight="13.5px"
      />

      <div style={{ ...capStyle, top: 1076 }}>TABLE II: Results of doing Mann-Whitney U test</div>
      <DataTable
        head={T2_HEAD}
        labels={T2_LABELS}
        rows={[T2_P, T2_U]}
        widths={[82, 253, 243, 263, 227]}
        leftBorders={[null, dbl, dbl, dbl, null]}
        left={106}
        top={1116}
        width={1068}
        fontSize={15.6}
        lineHeight="14.3px"
      />

      <TextLines lines={LEFT_LINES} top={1208} left={102} width={523} indent={20} lastJustified={true} />
      <TextLines lines={RIGHT_LINES_A} top={1208} left={650} width={523} />
      <div style={{ position: "absolute", top: 1299, left: 650, width: 523, textAlign: "center", fontFamily: SERIF, fontSize: TEXT_SIZE, lineHeight: `${LINE_H}px` }}>
        III.{"\u2002"}M<span style={{ fontSize: "0.8em" }}>ETHOD</span>
      </div>
      <TextLines lines={["The initial function used by itself is the Schwefel function:"]} top={1333} left={650} width={523} indent={20} lastJustified={true} />
      <Formula />
      <TextLines lines={RIGHT_LINES_B} top={1448} left={650} width={523} lastJustified={true} />
    </div>
  );
}
